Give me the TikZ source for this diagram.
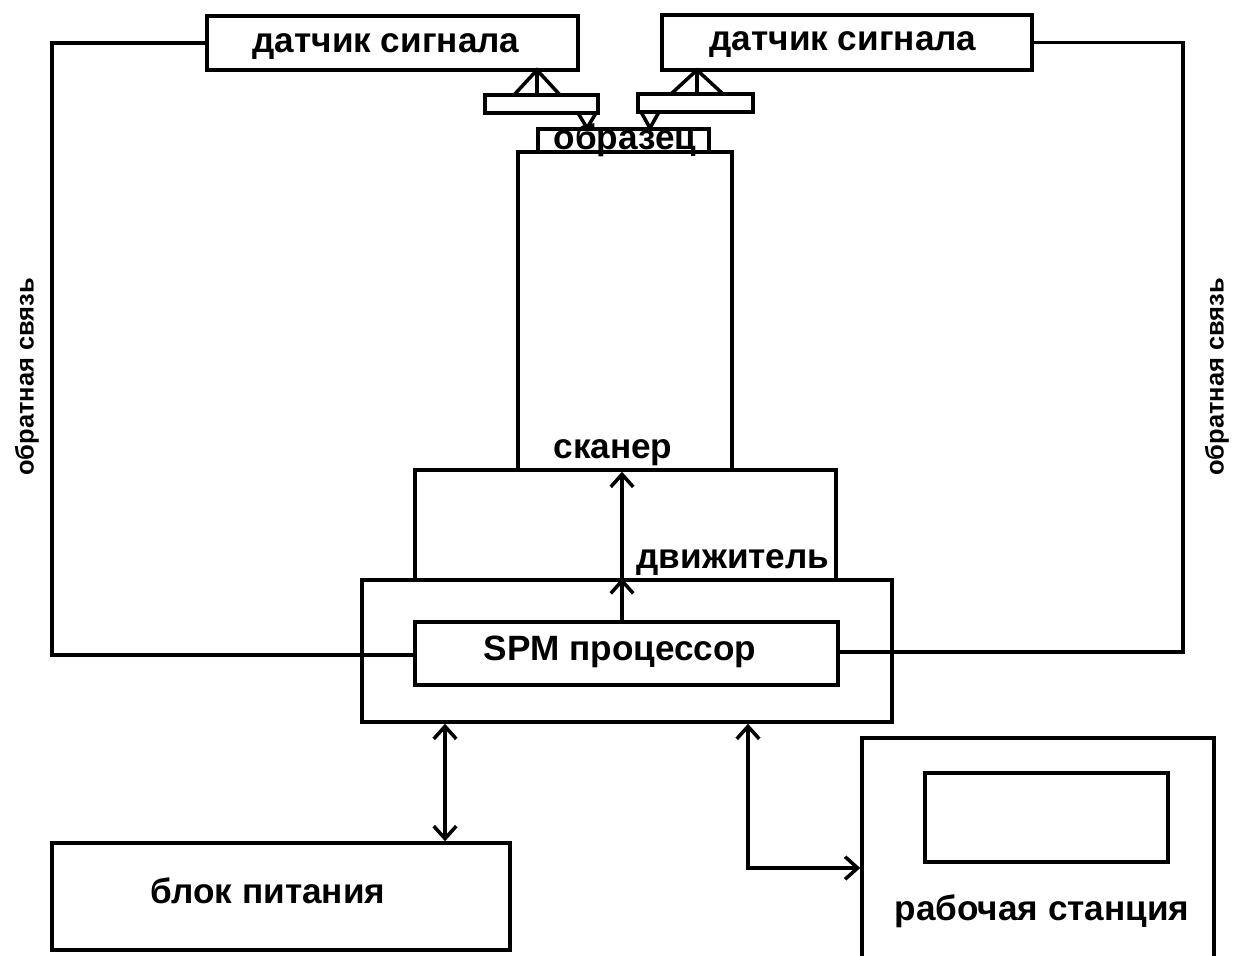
\documentclass[tikz,border=0pt]{standalone}
\usepackage{fontspec}
\setmainfont{Liberation Sans}
\usetikzlibrary{arrows.meta,fit,calc,positioning}

\begin{document}
\begin{tikzpicture}[x=0.02cm,y=-0.02cm,line width=2pt,
    box/.style={draw,rectangle,inner sep=0pt,fit={#1}},
    lbl/.style={font=\fontsize{20}{24}\bfseries\selectfont,inner sep=0pt,anchor=base},
    vlbl/.style={font=\fontsize{14.5}{18}\bfseries\selectfont,inner sep=0pt,rotate=90},
    >={Straight Barb[length=2.5mm,width=4.5mm,line width=2pt]}]
    \useasboundingbox (0,0) rectangle (1235,956);
    % sensors and probes
    \node [box={(207,16) (578,70)}] (sensL) {};
    \node [lbl] (sensLTxt) at (386,53) {датчик сигнала};
    \node [box={(662,15) (1032,70)}] (sensR) {};
    \node [lbl] (sensRTxt) at (843,51) {датчик сигнала};
    \node [box={(485,95) (598,113)}] (cantL) {};
    \node [box={(638,94) (753,112)}] (cantR) {};
    \node [box={(538,129) (709,152)}] (sample) {};
    \node [lbl] (sampleTxt) at (625,150) {образец};
    \coordinate (hL) at (537,70);
    \coordinate (hR) at (697,70);
    \draw ($(hL)+(-23,25)$) -- (hL) -- ($(hL)+(23,25)$) (hL) -- (hL |- cantL.north);
    \draw ($(hR)+(-26,24)$) -- (hR) -- ($(hR)+(26,24)$) (hR) -- (hR |- cantR.north);
    \draw (578,113) -- (587,128) -- (596,113);
    \draw (641,112) -- (650,128) -- (659,112);
    % scanner, mover, processor
    \node [box={(518,152) (732,470)}] (scanner) {};
    \node [lbl] (scannerTxt) at (613,459) {сканер};
    \node [box={(415,470) (836,580)}] (mover) {};
    \node [lbl] (moverTxt) at (733,568) {движитель};
    \node [box={(362,580) (892,722)}] (outer) {};
    \node [box={(415,622) (838,685)}] (spm) {};
    \node [lbl] (spmTxt) at (620,660) {SPM процессор};
    \coordinate (up) at (622,0);
    \draw [->] (spm.north -| up) -- (outer.north -| up);
    \draw [->] (outer.north -| up) -- (scanner.south -| up);
    % feedback
    \coordinate (fbL) at (52,655);
    \coordinate (fbR) at (1183,652);
    \draw (sensL.west) -| (fbL) -- (fbL -| spm.west);
    \draw (sensR.east) -| (fbR) -- (fbR -| spm.east);
    \node [vlbl] (fbTxtL) at (27,377) {обратная связь};
    \node [vlbl] (fbTxtR) at (1217,377) {обратная связь};
    % power supply and workstation
    \node [box={(52,843) (510,950)}] (power) {};
    \node [lbl] (powerTxt) at (268,903) {блок питания};
    \node [box={(862,738) (1214,962)}] (ws) {};
    \node [box={(925,773) (1168,862)}] (screen) {};
    \node [lbl] (wsTxt) at (1042,920) {рабочая станция};
    \coordinate (pw) at (445,0);
    \coordinate (wl) at (748,868);
    \draw [<->] (outer.south -| pw) -- (power.north -| pw);
    \draw [<->] (outer.south -| wl) |- (wl -| ws.west);
\end{tikzpicture}
\end{document}
